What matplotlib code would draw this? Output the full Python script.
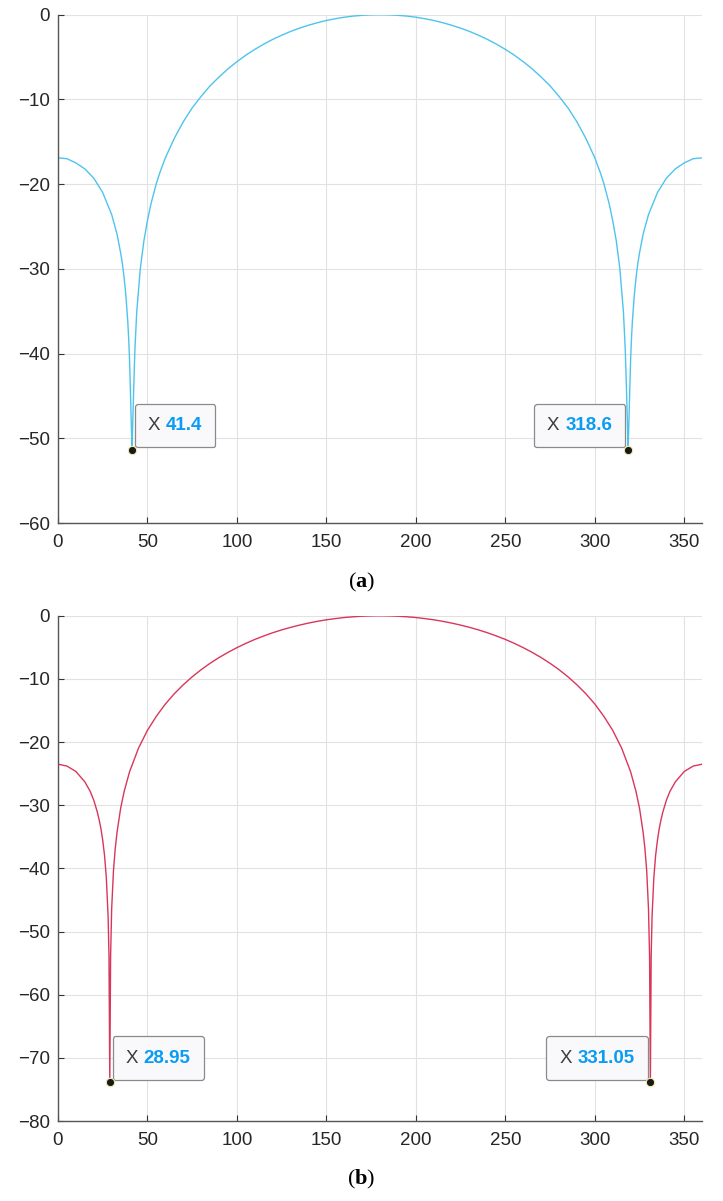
import matplotlib
matplotlib.use('Agg')
import matplotlib.pyplot as plt
from matplotlib.offsetbox import TextArea, HPacker, AnnotationBbox

# angle (deg) and normalized pattern (dB)
ang_a = [0, 5, 10, 15, 20, 25, 30, 33, 35, 36, 37, 38, 39, 39.5, 40, 40.5, 41, 41.4,
         41.8, 42.5, 43, 44, 46, 48, 50, 52, 55, 57, 60, 65, 70, 75, 80, 85, 90,
         95, 100, 105, 110, 115, 120, 125, 130, 135, 140, 145, 150, 155, 160, 165,
         170, 175, 180, 185, 190, 195, 200, 205, 210, 215, 220, 225, 230, 235, 240,
         245, 250, 255, 260, 265, 270, 275, 280, 285, 290, 295, 300, 303, 305, 308,
         310, 312, 314, 316, 317, 317.5, 318.2, 318.6, 319, 319.5, 320, 320.5, 321,
         322, 323, 324, 325, 327, 330, 335, 340, 345, 350, 355, 360]
db_a = [-16.9, -17.0, -17.5, -18.2, -19.3, -21.0, -23.6, -25.9, -28.1, -29.4, -31.1,
        -33.3, -36.2, -38.2, -40.8, -44.5, -48.5, -51.4,
        -48.0, -42.8, -39.5, -35.1, -30.0, -26.7, -24.3, -22.3, -19.9, -18.6, -16.9,
        -14.6, -12.65, -11.0, -9.65, -8.4, -7.36,
        -6.4, -5.55, -4.78, -4.1, -3.48, -2.92, -2.43, -1.98, -1.59, -1.25, -0.95,
        -0.69, -0.48, -0.3, -0.17, -0.08, -0.02, 0.0, -0.02, -0.08, -0.17, -0.3,
        -0.48, -0.69, -0.95, -1.25, -1.59, -1.98, -2.43, -2.92, -3.48, -4.1, -4.78,
        -5.55, -6.4, -7.36, -8.4, -9.65, -11.0, -12.65, -14.6, -16.9, -18.6, -19.9,
        -22.3, -24.3, -26.7, -30.0, -35.1, -39.5, -42.8, -48.0, -51.4, -48.5, -44.5,
        -40.8, -38.2, -36.2, -33.3, -31.1, -29.4, -28.1, -25.9, -23.6, -21.0, -19.3,
        -18.2, -17.5, -17.0, -16.9]

ang_b = [0, 5, 10, 15, 18, 20, 22, 23, 24, 25, 26, 27, 28, 28.5, 28.95, 29.4, 30, 31,
         32, 33, 35, 37, 40, 45, 50, 55, 60, 65, 70, 75, 80, 85, 90, 95, 100, 105,
         110, 115, 120, 125, 130, 135, 140, 145, 150, 155, 160, 165, 170, 175, 180,
         185, 190, 195, 200, 205, 210, 215, 220, 225, 230, 235, 240, 245, 250, 255,
         260, 265, 270, 275, 280, 285, 290, 295, 300, 305, 310, 315, 320, 323, 325,
         327, 328, 329, 330, 330.6, 331.05, 331.5, 332, 333, 334, 335, 336, 337, 338,
         340, 342, 345, 350, 355, 360]
db_b = [-23.5, -23.8, -24.65, -26.3, -27.8, -29.2, -31.1, -32.3, -33.7, -35.55, -37.9,
        -41.4, -47.5, -53.8, -73.9, -53.9, -46.4, -40.4,
        -36.85, -34.3, -30.5, -27.8, -24.7, -20.96, -18.14, -15.9, -13.98, -12.35,
        -10.93, -9.67, -8.54, -7.53, -6.62, -5.8, -5.05, -4.37,
        -3.75, -3.2, -2.69, -2.24, -1.84, -1.48, -1.16, -0.88, -0.64, -0.45, -0.28,
        -0.16, -0.07, -0.02, 0.0,
        -0.02, -0.07, -0.16, -0.28, -0.45, -0.64, -0.88, -1.16, -1.48, -1.84, -2.24,
        -2.69, -3.2, -3.75, -4.37, -5.05, -5.8, -6.62, -7.53, -8.54, -9.67, -10.93,
        -12.35, -13.98, -15.9, -18.14, -20.96, -24.7, -27.8, -30.5,
        -34.3, -36.85, -40.4, -46.4, -53.9, -73.9, -53.8, -47.5, -41.4, -37.9, -35.55,
        -33.7, -32.3, -31.1, -29.2, -27.8, -26.3, -24.65, -23.8, -23.5]

# datatip positions
null_a = [41.4, 318.6]
null_a_db = [-51.4, -51.4]
null_b = [28.95, 331.05]
null_b_db = [-73.9, -73.9]

xticks = [0, 50, 100, 150, 200, 250, 300, 350]

plt.rcParams['font.family'] = 'Liberation Sans'
plt.rcParams['mathtext.fontset'] = 'custom'
plt.rcParams['mathtext.rm'] = 'Liberation Serif'
plt.rcParams['mathtext.bf'] = 'Liberation Serif:bold'

fig = plt.figure(figsize=(7.23, 12.01), dpi=100)
ax1 = fig.add_axes([0.0802, 0.5645, 0.891, 0.4233])
ax2 = fig.add_axes([0.0802, 0.0666, 0.891, 0.4207])


def datatip(ax, x, y, txt, left):
    t1 = TextArea('X ', textprops=dict(color='#3c3c3c', size=13.5))
    t2 = TextArea(txt, textprops=dict(color='#0a9cf2', size=13.5, weight='bold'))
    pk = HPacker(children=[t1, t2], align='baseline', pad=0, sep=0)
    if left:
        xyb, al = (-11.5, 11.5), (1, 0)
    else:
        xyb, al = (11.5, 11.5), (0, 0)
    ab = AnnotationBbox(pk, (x, y), xybox=xyb, xycoords='data', boxcoords='offset points',
                        box_alignment=al, frameon=True, zorder=5,
                        bboxprops=dict(boxstyle='round,pad=0.95,rounding_size=0.2',
                                       fc='#f9f9fc', ec='#8a8a8a', lw=0.9))
    ax.add_artist(ab)


def style(ax, ymin):
    ax.set_xlim(0, 360)
    ax.set_ylim(ymin, 0)
    ax.set_xticks(xticks)
    ax.set_yticks(range(ymin, 1, 10))
    ax.set_yticklabels(['\u2212%d' % -v if v < 0 else '0' for v in range(ymin, 1, 10)])
    ax.grid(True, color='#e2e2e2', lw=0.8)
    ax.set_axisbelow(True)
    for s in ['top', 'right']:
        ax.spines[s].set_visible(False)
    for s in ['left', 'bottom']:
        ax.spines[s].set_color('#555555')
        ax.spines[s].set_linewidth(1.0)
    ax.tick_params(direction='in', length=4, width=0.8, color='#333333',
                   labelsize=13.5, labelcolor='#262626')
    ax.tick_params(axis='x', pad=8)
    ax.tick_params(axis='y', pad=6)


# (a)
ax1.plot(ang_a, db_a, color='#4dc4ee', lw=1.0)
ax1.plot(null_a, null_a_db, 'o', ms=6, mfc='#1a1a1a', mec='#f3eeb0', mew=0.8, zorder=6)
style(ax1, -60)
datatip(ax1, null_a[0], null_a_db[0], '41.4', False)
datatip(ax1, null_a[1], null_a_db[1], '318.6', True)

# (b)
ax2.plot(ang_b, db_b, color='#d9365a', lw=1.0)
ax2.plot(null_b, null_b_db, 'o', ms=6, mfc='#1a1a1a', mec='#f3eeb0', mew=0.8, zorder=6)
style(ax2, -80)
datatip(ax2, null_b[0], null_b_db[0], '28.95', False)
datatip(ax2, null_b[1], null_b_db[1], '331.05', True)

fig.text(0.5, 0.515, r'($\mathbf{a}$)', ha='center', va='center', size=16,
         family='Liberation Serif')
fig.text(0.5, 0.0175, r'($\mathbf{b}$)', ha='center', va='center', size=16,
         family='Liberation Serif')

plt.savefig('out.png', dpi=100)
